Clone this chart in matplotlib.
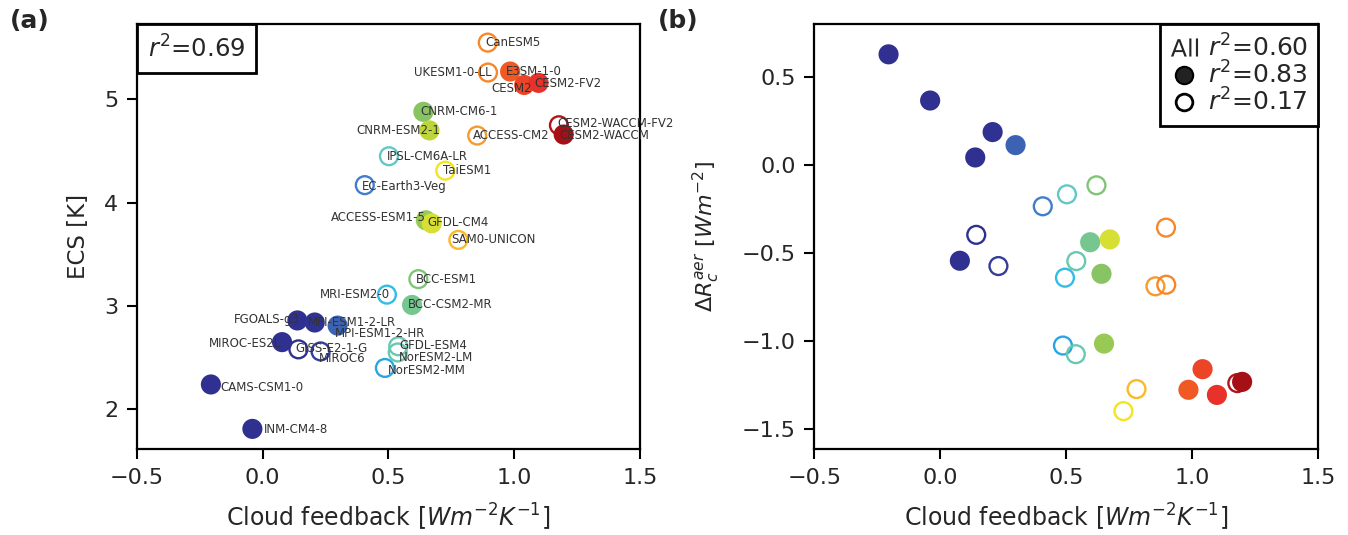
import numpy as np
import matplotlib
matplotlib.use('Agg')
import matplotlib.pyplot as plt
from matplotlib.colors import LinearSegmentedColormap, Normalize
from matplotlib.offsetbox import AnchoredText
from matplotlib.lines import Line2D

# model data, sorted by cloud feedback
models = ['CAMS-CSM1-0', 'INM-CM4-8', 'MIROC-ES2L', 'FGOALS-g3', 'GISS-E2-1-G',
          'MPI-ESM1-2-LR', 'MIROC6', 'MPI-ESM1-2-HR', 'EC-Earth3-Veg', 'NorESM2-MM',
          'MRI-ESM2-0', 'IPSL-CM6A-LR', 'NorESM2-LM', 'GFDL-ESM4', 'BCC-CSM2-MR',
          'BCC-ESM1', 'CNRM-CM6-1', 'ACCESS-ESM1-5', 'CNRM-ESM2-1', 'GFDL-CM4',
          'TaiESM1', 'SAM0-UNICON', 'ACCESS-CM2', 'CanESM5', 'UKESM1-0-LL',
          'E3SM-1-0', 'CESM2', 'CESM2-FV2', 'CESM2-WACCM-FV2', 'CESM2-WACCM']
cloud_fb = [-0.206, -0.041, 0.077, 0.138, 0.142,
            0.207, 0.230, 0.298, 0.406, 0.486,
            0.494, 0.502, 0.537, 0.539, 0.594,
            0.619, 0.639, 0.649, 0.663, 0.672,
            0.726, 0.778, 0.853, 0.895, 0.896,
            0.984, 1.040, 1.097, 1.178, 1.197]
ecs = [2.24, 1.81, 2.65, 2.86, 2.58,
       2.84, 2.56, 2.81, 4.17, 2.40,
       3.11, 4.45, 2.55, 2.61, 3.01,
       3.26, 4.88, 3.83, 4.70, 3.80,
       4.31, 3.64, 4.65, 5.55, 5.26,
       5.27, 5.14, 5.16, 4.75, 4.66]
aer_forcing = [0.626, 0.364, -0.545, 0.041, -0.398,
               0.185, -0.575, 0.111, -0.236, -1.026,
               -0.641, -0.168, -1.075, -0.547, -0.440,
               -0.117, -0.619, -1.015, np.nan, -0.424,
               -1.398, -1.273, -0.690, -0.357, -0.681,
               -1.277, -1.160, -1.306, -1.239, -1.232]
filled = [True, True, True, True, False,
          True, False, True, False, False,
          False, False, False, False, True,
          False, True, True, True, True,
          False, False, False, False, False,
          True, True, True, False, True]

r2_ecs = 0.69
r2_all, r2_filled, r2_open = 0.60, 0.83, 0.17

# label placement: offset in pixels and alignment
label_pos = {
    'CanESM5': (-2, 0, 'left'), 'UKESM1-0-LL': (4, 0, 'right'),
    'E3SM-1-0': (-4, 0, 'left'), 'CESM2': (8, -4, 'right'),
    'CESM2-FV2': (-4, -1, 'left'), 'CNRM-CM6-1': (-3, 0, 'left'),
    'CNRM-ESM2-1': (11, 0, 'right'), 'ACCESS-CM2': (-4, 0, 'left'),
    'CESM2-WACCM-FV2': (-2, 2, 'left'), 'CESM2-WACCM': (-4, -1, 'left'),
    'IPSL-CM6A-LR': (-2, 0, 'left'), 'TaiESM1': (-2, 0, 'left'),
    'EC-Earth3-Veg': (-3, -1, 'left'), 'ACCESS-ESM1-5': (0, 3, 'right'),
    'GFDL-CM4': (-4, 1, 'left'), 'SAM0-UNICON': (-7, 0, 'left'),
    'BCC-ESM1': (-2, 0, 'left'), 'MRI-ESM2-0': (3, 0, 'right'),
    'BCC-CSM2-MR': (-4, 0, 'left'), 'FGOALS-g3': (2, 1, 'right'),
    'MPI-ESM1-2-LR': (-7, 0, 'left'), 'MPI-ESM1-2-HR': (-3, -8, 'left'),
    'MIROC-ES2L': (-1, -1, 'right'), 'GISS-E2-1-G': (-3, 1, 'left'),
    'MIROC6': (-2, -7, 'left'), 'GFDL-ESM4': (1, 1, 'left'),
    'NorESM2-LM': (1, -5, 'left'), 'NorESM2-MM': (3, -3, 'left'),
    'CAMS-CSM1-0': (9, -3, 'left'), 'INM-CM4-8': (11, -1, 'left'),
}

cmap = LinearSegmentedColormap.from_list('cfb', [
    (0.0, '#303090'), (0.1, '#3c64b4'), (0.21, '#4080cc'), (0.286, '#2aa4e2'),
    (0.294, '#32bce6'), (0.302, '#62c8c6'), (0.35, '#6ccaa8'), (0.40, '#78c68a'),
    (0.44, '#88c462'), (0.46, '#b4d23e'), (0.475, '#e4e42e'), (0.53, '#f4e41e'),
    (0.58, '#fbb626'), (0.68, '#f7902a'), (0.78, '#f05a24'), (0.90, '#e8302a'),
    (1.0, '#a50f15')])
norm = Normalize(0.2, 1.2)

x = np.array(cloud_fb)
fill = np.array(filled)
cols = cmap(norm(x))
face = [c if f else 'none' for c, f in zip(cols, fill)]
sizes = np.where(fill, 210, 165)
lws = np.where(fill, 0, 1.7)

plt.rcParams['font.family'] = 'DejaVu Sans'
fig = plt.figure(figsize=(13.48, 5.35), dpi=100)
ax1 = fig.add_axes([0.1016, 0.1607, 0.3731, 0.7944])
ax2 = fig.add_axes([0.6042, 0.1607, 0.3739, 0.7944])

txt = '#262626'
for ax in (ax1, ax2):
    for s in ax.spines.values():
        s.set_linewidth(1.6)
    ax.tick_params(direction='out', length=7, width=1.5, pad=6.5, labelsize=16, labelcolor=txt)
    ax.set_xlim(-0.5, 1.5)
    ax.set_xticks([-0.5, 0.0, 0.5, 1.0, 1.5])
    ax.set_xlabel(r'Cloud feedback [$Wm^{-2}K^{-1}$]', fontsize=17, color=txt, labelpad=10)

# (a) ECS vs cloud feedback
ax1.scatter(x, ecs, s=sizes, facecolors=face, edgecolors=cols, linewidths=lws, zorder=3)
for name, xi, yi in zip(models, cloud_fb, ecs):
    dx, dy, ha = label_pos[name]
    ax1.annotate(name, (xi, yi), xytext=(dx, dy), textcoords='offset pixels',
                 ha=ha, va='center', fontsize=8.5, color='#333333', zorder=5)
ax1.set_ylim(1.615, 5.73)
ax1.set_yticks([2, 3, 4, 5])
ax1.set_ylabel('ECS [K]', fontsize=16.5, color=txt, labelpad=10)
at = AnchoredText(r'$r^2$=%.2f' % r2_ecs, loc='upper left', pad=0.45, borderpad=0,
                  prop=dict(size=17.5, color=txt), frameon=True)
at.patch.set_boxstyle('square,pad=0')
at.patch.set_linewidth(2)
at.patch.set_edgecolor('black')
ax1.add_artist(at)

# (b) aerosol cloud forcing vs cloud feedback
ax2.scatter(x, aer_forcing, s=sizes, facecolors=face, edgecolors=cols, linewidths=lws, zorder=3)
ax2.set_ylim(-1.613, 0.798)
ax2.set_yticks([-1.5, -1.0, -0.5, 0.0, 0.5])
ax2.set_ylabel(r'$\Delta R_c^{aer}$ [$Wm^{-2}$]', fontsize=16, color=txt, labelpad=14)

h_all = Line2D([], [], ls='none', marker=r'$\mathrm{All}$', markersize=19.5,
               color=txt, markeredgewidth=0)
h_fill = Line2D([], [], ls='none', marker='o', markersize=12.5,
                markerfacecolor='#222222', markeredgecolor='black', markeredgewidth=1.5)
h_open = Line2D([], [], ls='none', marker='o', markersize=12,
                markerfacecolor='white', markeredgecolor='black', markeredgewidth=2)
leg = ax2.legend([h_all, h_fill, h_open],
                 [r'$r^2$=%.2f' % r2_all, r'$r^2$=%.2f' % r2_filled, r'$r^2$=%.2f' % r2_open],
                 loc='upper right', borderaxespad=0, fontsize=18, fancybox=False,
                 framealpha=1, borderpad=0.4, labelspacing=0.0, handlelength=1.15,
                 handletextpad=0.4, labelcolor=txt)
leg.get_frame().set_edgecolor('black')
leg.get_frame().set_linewidth(2)

fig.text(10 / 1348, 1 - 9 / 535, '(a)', fontsize=18, fontweight='bold', color=txt, va='top')
fig.text(658 / 1348, 1 - 9 / 535, '(b)', fontsize=18, fontweight='bold', color=txt, va='top')

fig.savefig('out.png', dpi=100)
